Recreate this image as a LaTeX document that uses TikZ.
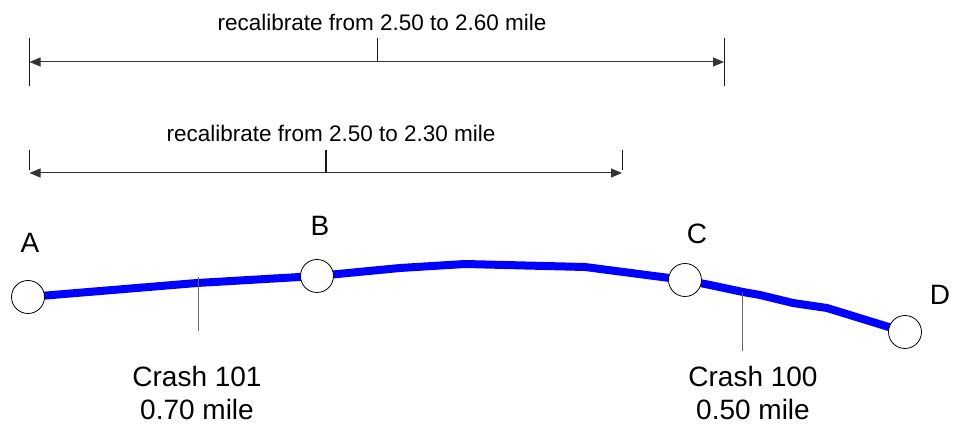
\documentclass[tikz,border=0pt]{standalone}
\usepackage{fontspec}
\setmainfont{Liberation Sans}
\usetikzlibrary{arrows.meta,backgrounds}
\tikzset{
	stop/.style={circle,draw,fill=white,line width=0.8pt,minimum size=33pt,inner sep=0pt},
	road/.style={blue,line width=8pt},
	dimline/.style={black!80,line width=1pt,{Triangle[length=11pt,width=9pt]}-{Triangle[length=11pt,width=9pt]}},
	dimtick/.style={black!90,line width=1pt},
	crashtick/.style={black!60,line width=1pt},
	calib/.style={font=\fontsize{22.5}{27}\selectfont,inner sep=0pt},
	letter/.style={font=\fontsize{28}{33}\selectfont,inner sep=0pt},
	crashlabel/.style={font=\fontsize{28}{33}\selectfont,align=center,inner sep=0pt}
}
\begin{document}
\begin{tikzpicture}[x=1pt,y=-1pt]
	\useasboundingbox (0,0) rectangle (954,427);
	
	\node[stop] (A) at (28,297) {};
	\node[stop] (B) at (317,276) {};
	\node[stop] (C) at (685,280) {};
	\node[stop] (D) at (905,332) {};
	
	\begin{scope}[on background layer]
		\draw[road] (A.center) -- (197,283) -- (B.center) -- (400,268) -- (465,264) -- (585,267) -- (C.center)
			-- (710,285) -- (743,292) -- (760,295) -- (793,303) -- (827,308) -- (D.center);
	\end{scope}
	
	\node[letter] (la) at (30,243) {A};
	\node[letter] (lb) at (320,226) {B};
	\node[letter] (lc) at (697,234) {C};
	\node[letter] (ld) at (940,295) {D};
	
	% crash locations
	\coordinate (k101) at (198,277);
	\coordinate (k100) at (742,292);
	\draw[crashtick] (k101) -- ++(0,54);
	\draw[crashtick] (k100) -- ++(0,59);
	\node[crashlabel] (c101) at (197,393) {Crash 101\\0.70 mile};
	\node[crashlabel] (c100) at (753,393) {Crash 100\\0.50 mile};
	
	% recalibration spans
	\coordinate (s1l) at (29.5,62);
	\coordinate (s1r) at (724,62);
	\coordinate (s1m) at (377,62);
	\draw[dimline] (s1l) -- (s1r);
	\draw[dimtick] (s1l) ++(0,-24) -- ++(0,48);
	\draw[dimtick] (s1r) ++(0,-24) -- ++(0,48);
	\draw[dimtick] (s1m) -- ++(0,-24);
	\node[calib] (t1) at (382,22) {recalibrate from 2.50 to 2.60 mile};
	
	\coordinate (s2l) at (29.5,173);
	\coordinate (s2r) at (622,173);
	\coordinate (s2m) at (326,173);
	\draw[dimline] (s2l) -- (s2r);
	\draw[dimtick] (s2l) ++(0,-3) -- ++(0,-20);
	\draw[dimtick] (s2r) ++(0,-3) -- ++(0,-20);
	\draw[dimtick,line width=1.4pt] (s2m) -- ++(0,-23);
	\node[calib] (t2) at (331,133) {recalibrate from 2.50 to 2.30 mile};
\end{tikzpicture}
\end{document}
